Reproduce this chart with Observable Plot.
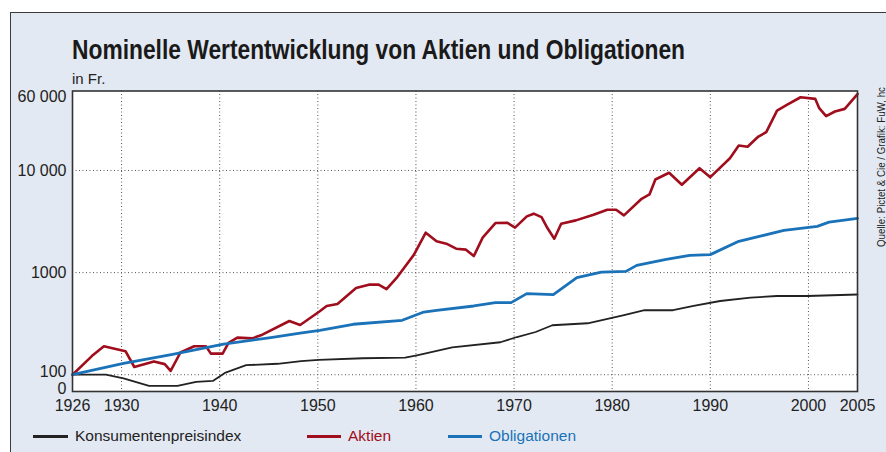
<!DOCTYPE html>
<html><head><meta charset="utf-8">
<script src="https://cdn.jsdelivr.net/npm/d3@7"></script>
<script src="https://cdn.jsdelivr.net/npm/@observablehq/plot@0.6"></script>
<style>
body{margin:0;background:#fff;}
#wrap{position:relative;width:886px;height:452px;overflow:hidden;font-family:"Liberation Sans",Arial,sans-serif;color:#222;}
#panel{position:absolute;left:10px;top:12px;right:0;bottom:0;background:#e3e9f2;border-left:1.5px solid #3a3a3a;border-top:1.5px solid #3a3a3a;}
#chart{position:absolute;left:0;top:0;}
#title{position:absolute;left:72px;top:35px;font-family:"Liberation Sans",Arial,sans-serif;font-weight:bold;font-size:27px;color:#1a1a1a;white-space:nowrap;transform-origin:0 0;}
#unit{position:absolute;left:72px;top:70px;font-size:15px;white-space:nowrap;}
#source{position:absolute;left:0;top:0;font-family:"Liberation Sans",Arial,sans-serif;font-size:11px;white-space:nowrap;color:#222;transform-origin:0 0;}
.leg{position:absolute;top:427px;font-size:15.5px;white-space:nowrap;}
.sw{position:absolute;height:2.5px;top:435px;}
</style>
</head><body>
<div id="wrap">
  <div id="panel"></div>
  <div id="chart"></div>
  <div id="title">Nominelle Wertentwicklung von Aktien und Obligationen</div>
  <div id="unit">in Fr.</div>
  <div id="source">Quelle: Pictet &amp; Cie / Grafik: FuW, hc</div>
  <div class="sw" style="left:33px;width:35px;background:#222"></div>
  <div class="leg" style="left:75px;color:#222">Konsumentenpreisindex</div>
  <div class="sw" style="left:307px;width:34px;background:#a00d1c"></div>
  <div class="leg" style="left:348px;color:#a00d1c">Aktien</div>
  <div class="sw" style="left:448px;width:34px;background:#1a72b9"></div>
  <div class="leg" style="left:489px;color:#1a72b9">Obligationen</div>
</div>
<script>
// Aktien (shares), nominal value in Fr. (index start = 100 at the beginning of 1926, plotted at 1925.0)
const aktienYears = [1925,1927.0,1928.2,1930.4,1931.3,1933.3,1934.4,1935.0,1936.0,1937.4,1938.6,1939.1,1940.3,1940.9,1941.8,1943.3,1944.2,1947.1,1948.2,1950.2,1950.9,1952.0,1953.9,1955.2,1956.2,1957.0,1958.1,1959.8,1961.0,1962.1,1963.1,1964.1,1965.1,1965.9,1966.8,1968.1,1969.3,1970.1,1971.3,1972.0,1972.8,1973.4,1974.1,1974.8,1976.3,1978.1,1979.5,1980.4,1981.2,1983.0,1983.8,1984.4,1985.8,1987.1,1988.9,1990.0,1992.0,1992.9,1993.8,1994.9,1995.7,1996.8,1997.8,1999.2,2000.7,2001.1,2001.8,2002.7,2003.7,2005];
const aktienValues = [100,153,190,170,119,135,127,109,165,190,190,161,161,205,231,227,243,336,307,418,471,492,706,762,762,690,904,1500,2460,2025,1920,1715,1677,1452,2200,3055,3080,2755,3550,3775,3490,2730,2147,3010,3245,3690,4130,4130,3630,5280,5820,8160,9500,7250,10520,8600,13180,17540,17060,21500,23700,38600,43900,52100,50200,40700,34000,37800,40100,56000];

// Obligationen (bonds)
const obligYears = [1925,1930.2,1935.2,1940.4,1945.2,1948.2,1950.2,1953.6,1958.6,1960.8,1962.1,1965.9,1968.1,1969.7,1971.3,1974.0,1976.4,1978.9,1981.4,1982.5,1985.5,1987.9,1990.0,1992.9,1995.1,1997.5,2000.9,2002.1,2005];
const obligValues = [100,129,158,199,231,256,272,312,341,411,427,471,508,508,622,608,893,1012,1028,1177,1349,1475,1500,2025,2277,2588,2833,3120,3400];

// Konsumentenpreisindex (consumer price index)
const kpiYears = [1925,1928.4,1930.2,1932.8,1935.7,1937.6,1939.3,1940.6,1942.7,1945.9,1948.3,1950.1,1954.6,1958.9,1960.1,1963.7,1968.6,1970.3,1972.2,1973.9,1977.5,1981.1,1983.3,1986.2,1988.3,1991.0,1994.1,1996.8,1999.9,2005];
const kpiValues = [100,100,92,77.6,77.6,85,87,105,124,128,136,140,145,147,155,185,208,234,262,305,319,382,428,428,471,527,569,590,590,610];

// x axis: tick positions and their printed labels
const xTicks = [1925,1930,1940,1950,1960,1970,1980,1990,2000,2005];
const xTickLabels = ["1926","1930","1940","1950","1960","1970","1980","1990","2000","2005"];
const xGrid = [1930,1940,1950,1960,1970,1980,1990,2000];

// y axis (log): tick positions and their printed labels
const yTicks = [76,100,1000,10000,60000];
const yTickLabels = ["0","100","1000","10 000","60 000"];
const yGrid = [100,1000,10000];

const toRows = (ys, vs) => ys.map((y, i) => ({year: y, value: vs[i]}));
const aktien = toRows(aktienYears, aktienValues);
const oblig = toRows(obligYears, obligValues);
const kpi = toRows(kpiYears, kpiValues);

const fmtX = d => xTickLabels[xTicks.indexOf(d)] ?? String(d);
// small label nudges so neighbouring labels sit as in the reference
const yNudge = {76: 2, 100: -2.5, 60000: 6};
const yRows = yTicks.map((v, i) => ({v, label: yTickLabels[i]}));

const yLabelMarks = yRows.map(r =>
  Plot.text([r], {y: "v", text: "label", frameAnchor: "left", textAnchor: "end", dx: -6, dy: yNudge[r.v] ?? 0, fontSize: 16, fill: "#222"})
);

const chart = Plot.plot({
  width: 886,
  height: 452,
  marginLeft: 72,
  marginRight: 29,
  marginTop: 90.5,
  marginBottom: 61,
  x: {domain: [1925, 2005]},
  y: {type: "log", domain: [68.5, 60000], axis: null},
  style: {background: "transparent", fontFamily: "'Liberation Sans', Arial, sans-serif", color: "#222"},
  marks: [
    Plot.frame({fill: "white"}),
    Plot.ruleX(xGrid, {x: d => d, stroke: "#555", strokeDasharray: "1,2.5", strokeWidth: 1}),
    Plot.ruleY(yGrid, {y: d => d, stroke: "#555", strokeDasharray: "1,2.5", strokeWidth: 1}),
    Plot.line(kpi, {x: "year", y: "value", stroke: "#222", strokeWidth: 1.8}),
    Plot.line(aktien, {x: "year", y: "value", stroke: "#a00d1c", strokeWidth: 2.6}),
    Plot.line(oblig, {x: "year", y: "value", stroke: "#1a72b9", strokeWidth: 2.8}),
    Plot.frame({stroke: "#333", strokeWidth: 1.6}),
    Plot.axisX(xTicks, {tickSize: 0, tickPadding: 8, fontSize: 16, tickFormat: fmtX, label: null, color: "#222"}),
    ...yLabelMarks
  ]
});
document.getElementById("chart").appendChild(chart);

// fit title to reference width (condensed look)
const title = document.getElementById("title");
const tw = title.getBoundingClientRect().width;
title.style.transform = `scaleX(${613 / tw})`;

// vertical source note, centred at x≈881, spanning y≈87–247
const src = document.getElementById("source");
const sw = src.getBoundingClientRect().width, sh = src.getBoundingClientRect().height;
const k = 160 / sw;
src.style.transform = `translate(${881 - sh / 2}px, ${247}px) rotate(-90deg) scaleX(${k})`;
</script>
</body></html>
